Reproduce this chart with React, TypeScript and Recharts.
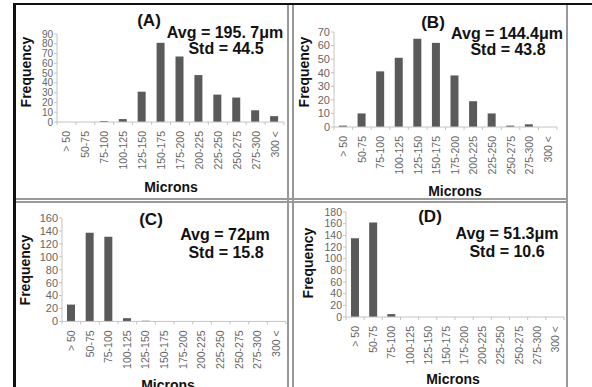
import React from 'react';
import { BarChart, Bar, XAxis, YAxis } from 'recharts';

const bins = ['> 50', '50-75', '75-100', '100-125', '125-150', '150-175', '175-200', '200-225', '225-250', '250-275', '275-300', '300 <'];

const freqA = [0, 0, 1, 3, 31, 81, 67, 48, 28, 25, 12, 6];
const freqB = [1, 10, 41, 51, 65, 62, 38, 19, 10, 1, 2, 0];
const freqC = [26, 137, 131, 5, 1, 0, 0, 0, 0, 0, 0, 0];
const freqD = [135, 162, 5, 0, 0, 0, 0, 0, 0, 0, 0, 0];

const ticksA = [0, 10, 20, 30, 40, 50, 60, 70, 80, 90];
const ticksB = [0, 10, 20, 30, 40, 50, 60, 70];
const ticksC = [0, 20, 40, 60, 80, 100, 120, 140, 160];
const ticksD = [0, 20, 40, 60, 80, 100, 120, 140, 160, 180];

const FONT = '"Liberation Sans", Arial, sans-serif';
const BAR = '#5a5a5a';
const AXIS = '#c4c4c4';
const TICK = '#666';

const YW = 45;
const XH = 60;

const XTick = (props: any) => {
  const { x, y, payload, step } = props;
  const ty = y + 9;
  const lines = [x - step / 2];
  if (payload.index === bins.length - 1) lines.push(x + step / 2);
  return (
    <g>
      {lines.map((lx, i) => (
        <line key={i} x1={lx} x2={lx} y1={y} y2={y + 3} stroke={AXIS} strokeWidth={1} />
      ))}
      <text
        x={x}
        y={ty}
        transform={`rotate(-90 ${x} ${ty})`}
        textAnchor="end"
        dominantBaseline="central"
        fontSize={10.5}
        fill={TICK}
        fontFamily={FONT}
      >
        {payload.value}
      </text>
    </g>
  );
};

const Panel = ({ values, ticks, box, yFont }: any) => {
  const data = bins.map((b, i) => ({ bin: b, freq: values[i] }));
  const left = box.l - YW;
  const top = box.t - 10;
  const width = box.r - left + 5;
  const height = box.b - top + XH;
  const step = (box.r - box.l) / bins.length;
  return (
    <div style={{ position: 'absolute', left, top }}>
      <BarChart width={width} height={height} data={data} margin={{ top: 10, right: 5, left: 0, bottom: 0 }}>
        <XAxis
          dataKey="bin"
          interval={0}
          height={XH}
          stroke={AXIS}
          tickLine={false}
          tickSize={0}
          tickMargin={0}
          tick={<XTick step={step} />}
        />
        <YAxis
          width={YW}
          domain={[0, ticks[ticks.length - 1]]}
          ticks={ticks}
          interval={0}
          stroke={AXIS}
          tickSize={3}
          tickMargin={1}
          tick={{ fontSize: yFont || 11, fill: TICK, fontFamily: FONT }}
        />
        <Bar dataKey="freq" fill={BAR} barSize={8} isAnimationActive={false} />
      </BarChart>
    </div>
  );
};

const Txt = ({ x, y, size, children, rot }: any) => (
  <div
    style={{
      position: 'absolute',
      left: x,
      top: y,
      transform: `translate(-50%, -50%)${rot ? ' rotate(-90deg)' : ''}`,
      fontFamily: FONT,
      fontWeight: 'bold',
      fontSize: size,
      color: '#111',
      whiteSpace: 'nowrap',
      lineHeight: 1,
    }}
  >
    {children}
  </div>
);

const Line = ({ l, t, w, h, c }: any) => (
  <div style={{ position: 'absolute', left: l, top: t, width: w, height: h, background: c }} />
);

export default function App() {
  return (
    <div style={{ position: 'absolute', left: 0, top: 0, width: 592, height: 387, background: '#fff', overflow: 'hidden' }}>
      <Panel values={freqA} ticks={ticksA} box={{ l: 57, r: 284, t: 34, b: 122 }} yFont={10} />
      <Panel values={freqB} ticks={ticksB} box={{ l: 334, r: 557, t: 32.3, b: 127.3 }} />
      <Panel values={freqC} ticks={ticksC} box={{ l: 62, r: 286, t: 218.3, b: 321.7 }} />
      <Panel values={freqD} ticks={ticksD} box={{ l: 346, r: 564, t: 211.7, b: 316.7 }} yFont={10.5} />

      <Txt x={149} y={20} size={17}>(A)</Txt>
      <Txt x={225} y={33} size={16}>Avg = 195. 7μm</Txt>
      <Txt x={226} y={49} size={16}>Std = 44.5</Txt>
      <Txt x={26} y={72} size={14} rot>Frequency</Txt>
      <Txt x={171} y={187} size={14}>Microns</Txt>

      <Txt x={433} y={22} size={17}>(B)</Txt>
      <Txt x={507} y={34} size={16}>Avg = 144.4μm</Txt>
      <Txt x={508} y={50} size={16}>Std = 43.8</Txt>
      <Txt x={304} y={72} size={14} rot>Frequency</Txt>
      <Txt x={455} y={191} size={14}>Microns</Txt>

      <Txt x={151} y={219} size={17}>(C)</Txt>
      <Txt x={225} y={235} size={16}>Avg = 72μm</Txt>
      <Txt x={226} y={253} size={16}>Std = 15.8</Txt>
      <Txt x={25} y={270} size={14} rot>Frequency</Txt>
      <Txt x={168} y={385} size={14}>Microns</Txt>

      <Txt x={430} y={216} size={17}>(D)</Txt>
      <Txt x={507} y={234} size={16}>Avg = 51.3μm</Txt>
      <Txt x={507} y={252} size={16}>Std = 10.6</Txt>
      <Txt x={308} y={263} size={14} rot>Frequency</Txt>
      <Txt x={453} y={379} size={14}>Microns</Txt>

      <Line l={13} t={3} w={579} h={2} c="#111" />
      <Line l={13} t={3} w={3} h={384} c="#111" />
      <Line l={287} t={5} w={1.5} h={382} c="#999" />
      <Line l={292} t={5} w={1.5} h={382} c="#999" />
      <Line l={16} t={198} w={551} h={1.5} c="#999" />
      <Line l={16} t={201} w={551} h={1.5} c="#999" />
      <Line l={566} t={5} w={2} h={382} c="#999" />
    </div>
  );
}
